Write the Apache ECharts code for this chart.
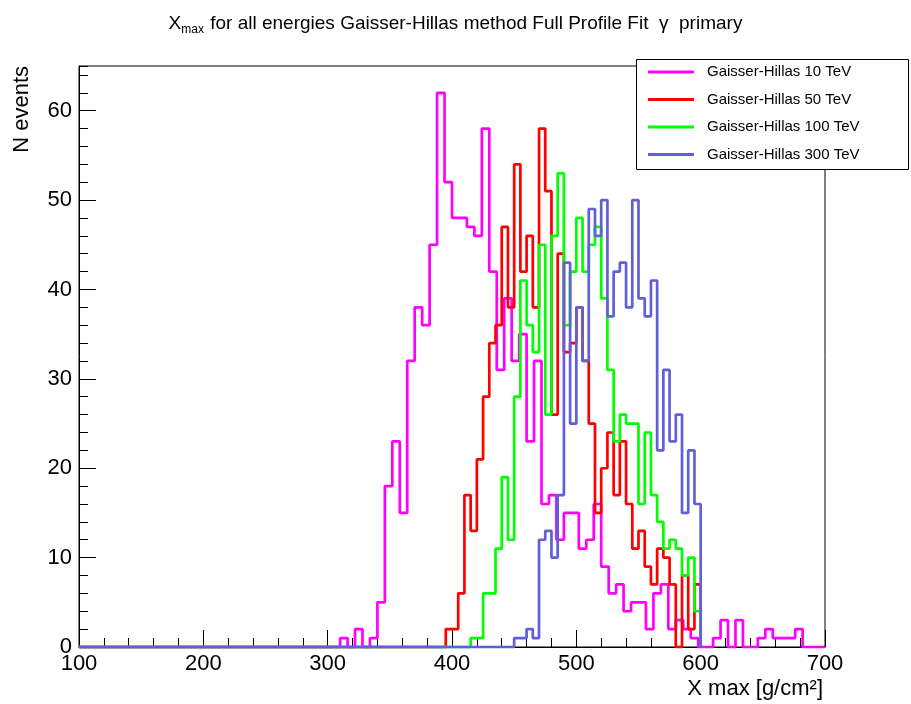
<!DOCTYPE html>
<html>
<head>
<meta charset="utf-8">
<script src="https://cdn.jsdelivr.net/npm/echarts@6/dist/echarts.min.js"></script>
<style>
html,body{margin:0;padding:0;background:#fff;}
#chart{width:911px;height:704px;}
</style>
</head>
<body>
<div id="chart"></div>
<script>
// ---------- data ----------
const seriesNames = ['Gaisser-Hillas 10 TeV', 'Gaisser-Hillas 50 TeV', 'Gaisser-Hillas 100 TeV', 'Gaisser-Hillas 300 TeV'];
const seriesColors = ['#ff00ff', '#ff0000', '#00ff00', '#6060d8'];
// histogram axis ranges [low, high] (g/cm2) and bin widths
const histRanges = [[100, 700], [100, 600], [100, 600], [100, 600]];
const binWidths = [6, 5, 5, 5];
// lower edge of first listed bin (all bins before it are empty)
const firstEdges = [310, 395, 415, 450];
// bin contents (N events), consecutive bins from firstEdges
const counts10TeV = [1, 0, 2, 0, 1, 5, 18, 23, 15, 32, 38, 36, 45, 62, 52, 48, 48, 47, 46, 58, 42, 31, 39, 32, 35, 23, 32, 16, 17, 12, 15, 15, 11, 12, 16, 9, 6, 7, 4, 5, 5, 2, 6, 7, 2, 3, 2, 1, 0, 0, 1, 3, 0, 3, 0, 0, 1, 2, 1, 1, 1, 2];
const counts50TeV = [2, 2, 6, 17, 13, 21, 28, 34, 36, 47, 38, 54, 42, 46, 38, 58, 51, 26, 44, 33, 34, 38, 32, 25, 15, 20, 24, 17, 23, 16, 11, 13, 9, 7, 11, 10, 7, 0, 8, 2, 7];
const counts100TeV = [1, 1, 6, 6, 11, 19, 12, 28, 41, 36, 33, 45, 26, 46, 53, 36, 42, 48, 42, 45, 47, 39, 31, 23, 26, 25, 25, 16, 24, 17, 14, 11, 12, 11, 8, 10, 4];
const counts300TeV = [1, 1, 2, 1, 12, 13, 10, 17, 43, 25, 38, 32, 49, 46, 50, 37, 42, 43, 38, 50, 39, 37, 41, 22, 31, 23, 26, 15, 22, 16];
const allCounts = [counts10TeV, counts50TeV, counts100TeV, counts300TeV];

const xRange = [100, 700];
const yRange = [0, 65];
const xMajor = 100, yMajor = 10, yMinor = 2;

const FONT = 'Liberation Sans, Arial, Helvetica, sans-serif';

// build step outline points (in data coordinates) for one histogram
function histOutline(range, w, first, counts) {
  const pts = [[range[0], 0], [first, 0]];
  counts.forEach(function (c, i) {
    const lo = first + i * w;
    pts.push([lo, c], [lo + w, c]);
  });
  const end = first + counts.length * w;
  pts.push([end, 0], [range[1], 0]);
  return pts;
}

const series = seriesNames.map(function (name, k) {
  return {
    name: name,
    type: 'line',
    xAxisIndex: 0,
    yAxisIndex: 0,
    data: histOutline(histRanges[k], binWidths[k], firstEdges[k], allCounts[k]),
    symbol: 'none',
    showSymbol: false,
    clip: false,
    lineStyle: { color: seriesColors[k], width: 2.7 },
    itemStyle: { color: seriesColors[k] },
    emphasis: { disabled: true },
    animation: false,
    z: 2 + k
  };
});

const chart = echarts.init(document.getElementById('chart'), null, { renderer: 'canvas' });

const gridRect = { left: 79, right: 86, top: 66, bottom: 57 };

chart.setOption({
  animation: false,
  backgroundColor: '#ffffff',
  title: {
    text: '{a|X}{s|max}{a| for all energies Gaisser-Hillas method Full Profile Fit  γ  primary}',
    left: 'center',
    top: 6,
    textStyle: {
      fontWeight: 'normal',
      rich: {
        a: { fontSize: 19, fontFamily: FONT, fontWeight: 'normal', color: '#000', verticalAlign: 'middle' },
        s: { fontSize: 12, fontFamily: FONT, fontWeight: 'normal', color: '#000', verticalAlign: 'middle', padding: [13, 1, 0, 0] }
      }
    }
  },
  grid: [
    Object.assign({ show: true, borderColor: '#000', borderWidth: 1, backgroundColor: 'transparent' }, gridRect),
    Object.assign({ show: false }, gridRect)
  ],
  xAxis: [
    {
      type: 'value', gridIndex: 0, min: xRange[0], max: xRange[1], interval: xMajor,
      axisLine: { show: true, lineStyle: { color: '#000', width: 1 } },
      axisTick: { show: true, inside: true, length: 17, lineStyle: { color: '#000', width: 1 } },
      minorTick: { show: true, splitNumber: 5, length: 9, lineStyle: { color: '#000', width: 1 } },
      splitLine: { show: false },
      axisLabel: { show: true, fontSize: 22, color: '#000', fontFamily: FONT, margin: 6 }
    },
    {
      type: 'value', gridIndex: 1, min: xRange[0], max: xRange[1], show: false
    }
  ],
  yAxis: [
    {
      type: 'value', gridIndex: 0, min: yRange[0], max: yRange[1], interval: yMajor,
      axisLine: { show: true, lineStyle: { color: '#000', width: 1 } },
      axisTick: { show: true, inside: true, length: 17, lineStyle: { color: '#000', width: 1 } },
      minorTick: { show: false },
      splitLine: { show: false },
      axisLabel: { show: true, fontSize: 22, color: '#000', fontFamily: FONT, margin: 7, showMaxLabel: false }
    },
    {
      type: 'value', gridIndex: 1, min: yRange[0], max: yRange[1], interval: yMinor,
      axisLine: { show: false },
      axisTick: { show: true, inside: true, length: 9, lineStyle: { color: '#000', width: 1 } },
      splitLine: { show: false },
      axisLabel: { show: false }
    }
  ],
  legend: {
    orient: 'vertical',
    left: 648,
    top: 64,
    padding: 0,
    itemWidth: 46,
    itemHeight: 3,
    itemGap: 11.5,
    icon: 'rect',
    selectedMode: false,
    z: 10,
    textStyle: { fontSize: 15, color: '#000', fontFamily: FONT, lineHeight: 16, padding: [0, 0, 0, 8] },
    data: seriesNames
  },
  graphic: [
    {
      type: 'rect', z: 8,
      shape: { x: 636.5, y: 59.5, width: 272, height: 110 },
      style: { fill: '#fff', stroke: '#000', lineWidth: 1 }
    },
    {
      type: 'text', z: 8,
      x: 823, y: 689,
      style: { text: 'X max [g/cm²]', fontSize: 22, fontFamily: FONT, fill: '#000', align: 'right', verticalAlign: 'middle' }
    },
    {
      type: 'text', z: 8,
      x: 22, y: 66, rotation: Math.PI / 2,
      style: { text: 'N events', fontSize: 22, fontFamily: FONT, fill: '#000', align: 'right', verticalAlign: 'middle' }
    }
  ],
  series: series
});
</script>
</body>
</html>
